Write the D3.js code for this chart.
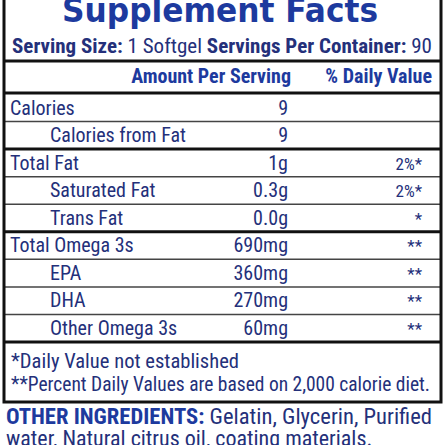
<!DOCTYPE html>
<html><head><meta charset="utf-8">
<script src="https://cdn.jsdelivr.net/npm/d3@7"></script>
<style>body{margin:0;background:#fff}svg{display:block}</style>
</head><body>
<script>
// Rows of the label
const nutrients = ["Calories","Calories from Fat","Total Fat","Saturated Fat","Trans Fat","Total Omega 3s","EPA","DHA","Other Omega 3s"];
const amounts = ["9","9","1g","0.3g","0.0g","690mg","360mg","270mg","60mg"];
const dailyValues = ["","","2%*","2%*","*","**","**","**","**"];
const indented = [false,true,false,true,true,false,true,true,true];
const thickAfter = [false,true,false,false,true,false,false,false,true];
const footnotes = ["*Daily Value not established","**Percent Daily Values are based on 2,000 calorie diet."];
const footWidths = [228, 419];

const W = 445, H = 445;
const navy = "#24307a", blue = "#1d3a9e";
const narrow = "'Liberation Sans Narrow','Roboto Condensed','DejaVu Sans Condensed',sans-serif";

const svg = d3.select("body").append("svg").attr("width", W).attr("height", H);

const y = d3.scaleBand().domain(d3.range(nutrients.length)).range([94, 342]);
const xAmt = 288, xDv = 422, xLab = 10, xInd = 50;

// title
svg.append("text").attr("x", 220).attr("y", 22).attr("text-anchor", "middle")
  .attr("font-family", "'DejaVu Sans',sans-serif").attr("font-weight", 900)
  .attr("font-size", 34).attr("fill", blue)
  .attr("textLength", 316).attr("lengthAdjust", "spacingAndGlyphs")
  .text("Supplement Facts");

const serving = svg.append("text").attr("x", 12).attr("y", 53)
  .attr("font-family", narrow).attr("font-size", 20).attr("fill", navy)
  .attr("textLength", 420).attr("lengthAdjust", "spacingAndGlyphs");
serving.append("tspan").attr("font-weight", "bold").text("Serving Size:");
serving.append("tspan").text(" 1 Softgel   ");
serving.append("tspan").attr("font-weight", "bold").text("Servings Per Container:");
serving.append("tspan").text(" 90");

// header
const hdr = svg.append("g").attr("font-family", narrow).attr("font-weight", "bold")
  .attr("font-size", 20).attr("fill", blue).attr("text-anchor", "end");
hdr.append("text").attr("x", 291).attr("y", 83).text("Amount Per Serving");
hdr.append("text").attr("x", 432).attr("y", 83).text("% Daily Value");

// rows
const rows = svg.append("g").attr("font-family", narrow).attr("font-size", 20).attr("fill", navy);
const r = rows.selectAll("g").data(nutrients).join("g")
  .attr("transform", (d, i) => `translate(0,${y(i) + y.bandwidth() - 7})`);
r.append("text").attr("x", (d, i) => indented[i] ? xInd : xLab).text(d => d);
r.append("text").attr("x", xAmt).attr("text-anchor", "end").text((d, i) => amounts[i]);
r.append("text").attr("x", xDv).attr("text-anchor", "end").attr("font-size", 17).text((d, i) => dailyValues[i]);

// separators
svg.append("g").selectAll("line").data(d3.range(nutrients.length - 1)).join("line")
  .attr("x1", 4).attr("x2", 441)
  .attr("y1", i => y(i + 1)).attr("y2", i => y(i + 1))
  .attr("stroke", i => thickAfter[i] ? "#111" : "#444")
  .attr("stroke-width", i => thickAfter[i] ? 3 : 1.5);
[61, 93, 342].forEach(v => svg.append("line").attr("x1", 4).attr("x2", 441)
  .attr("y1", v).attr("y2", v).attr("stroke", "#111").attr("stroke-width", 3));

// outer box
svg.append("rect").attr("x", 4).attr("y", -5).attr("width", 437).attr("height", 407)
  .attr("fill", "none").attr("stroke", "#111").attr("stroke-width", 3);

// footnotes
svg.append("g").attr("font-family", narrow).attr("font-size", 21).attr("fill", navy)
  .selectAll("text").data(footnotes).join("text")
  .attr("x", 11).attr("y", (d, i) => 368 + i * 23)
  .attr("textLength", (d, i) => footWidths[i]).attr("lengthAdjust", "spacingAndGlyphs")
  .text(d => d);

// other ingredients
const oi = svg.append("text").attr("x", 6).attr("y", 424)
  .attr("font-family", narrow).attr("font-size", 22).attr("fill", navy)
  .attr("textLength", 426).attr("lengthAdjust", "spacingAndGlyphs");
oi.append("tspan").attr("font-weight", "bold").attr("fill", blue).text("OTHER INGREDIENTS:");
oi.append("tspan").text(" Gelatin, Glycerin, Purified");
svg.append("text").attr("x", 6).attr("y", 446)
  .attr("font-family", narrow).attr("font-size", 22).attr("fill", navy)
  .text("water, Natural citrus oil, coating materials.");
</script>
</body></html>
